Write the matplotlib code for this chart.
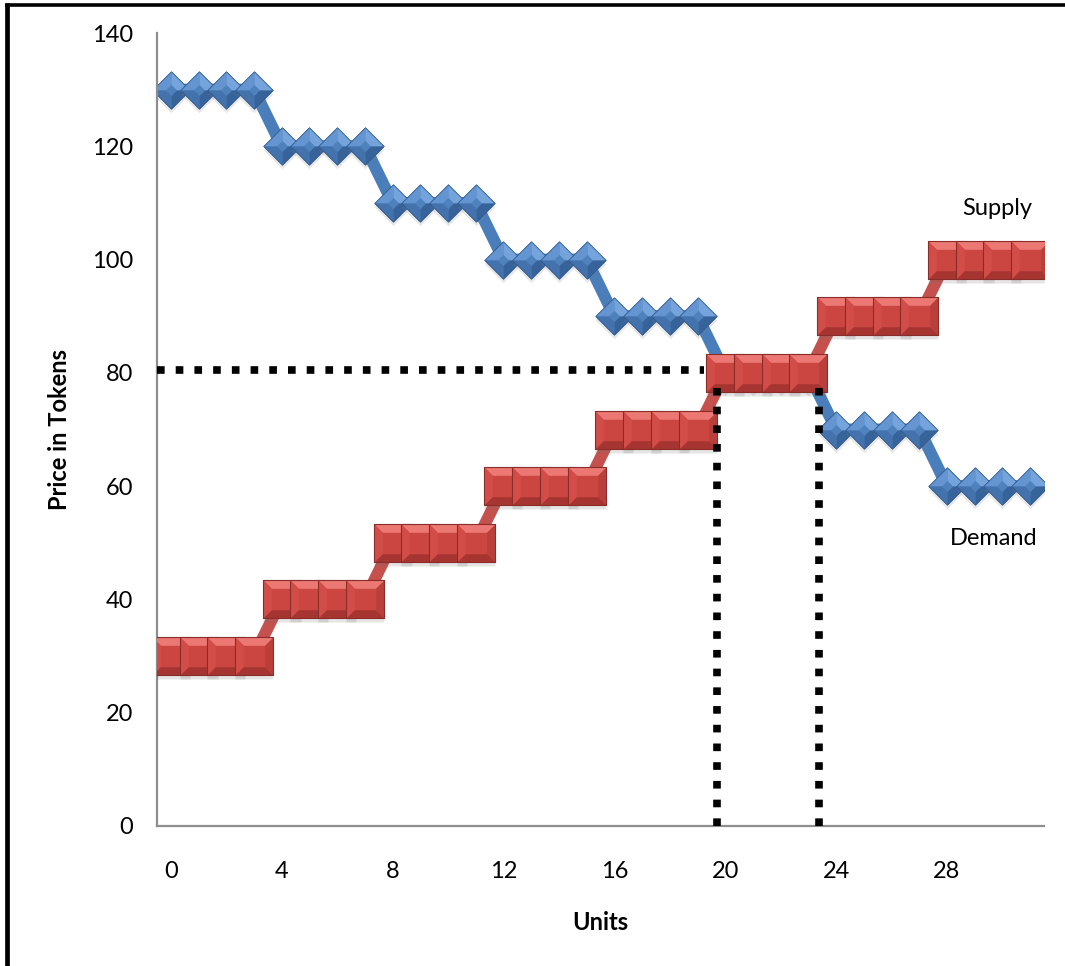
import matplotlib
matplotlib.use("Agg")
import matplotlib.pyplot as plt
from matplotlib.path import Path
from matplotlib.lines import Line2D
import matplotlib.transforms as mtransforms

# ---------------- data ----------------
units = list(range(32))
demand = [130, 130, 130, 130, 120, 120, 120, 120, 110, 110, 110, 110,
          100, 100, 100, 100, 90, 90, 90, 90, 80, 80, 80, 80,
          70, 70, 70, 70, 60, 60, 60, 60]
supply = [30, 30, 30, 30, 40, 40, 40, 40, 50, 50, 50, 50,
          60, 60, 60, 60, 70, 70, 70, 70, 80, 80, 80, 80,
          90, 90, 90, 90, 100, 100, 100, 100]
xtick_vals = [0, 4, 8, 12, 16, 20, 24, 28]
ytick_vals = [0, 20, 40, 60, 80, 100, 120, 140]

eq_price = 80.5          # horizontal dotted guide
eq_price_end = 19.25     # where horizontal guide stops
qty_low = 19.7           # left vertical dotted guide
qty_high = 23.4          # right vertical dotted guide
qty_top = 77.3           # top of vertical guides

supply_label_pos = (29.8, 107.9)
demand_label_pos = (29.7, 49.6)

plt.rcParams['font.family'] = ['Lato', 'DejaVu Sans']

fig = plt.figure(figsize=(10.65, 9.66), dpi=100)
ax = fig.add_axes([157/1065, 1 - 826/966, (1044-157)/1065, (826-33)/966])

ax.set_xlim(-0.5, 31.5)
ax.set_ylim(0, 140)

# ---------------- facet marker paths ----------------
def poly(pts):
    return Path(pts + [pts[0]], [Path.MOVETO] + [Path.LINETO]*(len(pts)-1) + [Path.CLOSEPOLY])

a = 0.55
sq_base = poly([(-1, -1), (1, -1), (1, 1), (-1, 1)])
sq_base_col = '#CB4541'
sq_facets = [
    (poly([(-1, 1), (1, 1), (a, a), (-a, a)]), '#EC7873'),      # top
    (poly([(-1, -1), (-1, 1), (-a, a), (-a, -a)]), '#D24D48'),  # left
    (poly([(1, -1), (1, 1), (a, a), (a, -a)]), '#BA3F3B'),      # right
    (poly([(-1, -1), (1, -1), (a, -a), (-a, -a)]), '#A63531'),  # bottom
]

b = 0.3
dm_base = poly([(-1, 0), (0, 1), (1, 0), (0, -1)])
dm_base_col = '#4F81BD'
dm_facets = [
    (poly([(-1, 0), (0, 1), (0, b), (-b, 0)]), '#6595D0'),      # top-left
    (poly([(0, 1), (1, 0), (b, 0), (0, b)]), '#75A4DC'),        # top-right
    (poly([(-1, 0), (0, -1), (0, -b), (-b, 0)]), '#4372AD'),    # bottom-left
    (poly([(1, 0), (0, -1), (0, -b), (b, 0)]), '#37639B'),      # bottom-right
]

shadow_tr = mtransforms.offset_copy(ax.transData, fig=fig, x=0, y=-4, units='dots')

# ---------------- demand ----------------
ax.plot(units, demand, color='#4A7EBB', lw=8.6, solid_capstyle='butt', zorder=2)
dm_size = 27
for x, y in zip(units, demand):
    ax.plot([x], [y], marker=dm_base, ms=dm_size, mfc='#7F7F7F', mec='none',
            alpha=0.18, ls='none', transform=shadow_tr, zorder=2)
    ax.plot([x], [y], marker=dm_base, ms=dm_size, mfc=dm_base_col, mec='none', ls='none', zorder=2)
    for path, col in dm_facets:
        ax.plot([x], [y], marker=path, ms=dm_size, mfc=col, mec='none', ls='none', zorder=2)
    ax.plot([x], [y], marker=dm_base, ms=dm_size, mfc='none', mec='#2F5A8E',
            mew=0.6, ls='none', zorder=2)

# ---------------- supply ----------------
ax.plot(units, supply, color='#C4514E', lw=8.6, solid_capstyle='butt', zorder=3)
sq_size = 28
for x, y in zip(units, supply):
    ax.plot([x], [y], marker=sq_base, ms=sq_size, mfc='#6F6F6F', mec='none',
            alpha=0.18, ls='none', transform=shadow_tr, zorder=3)
    ax.plot([x], [y], marker=sq_base, ms=sq_size, mfc=sq_base_col, mec='none', ls='none', zorder=3)
    for path, col in sq_facets:
        ax.plot([x], [y], marker=path, ms=sq_size, mfc=col, mec='none', ls='none', zorder=3)
    ax.plot([x], [y], marker=sq_base, ms=sq_size, mfc='none', mec='#8A2C29',
            mew=0.8, ls='none', zorder=3)

# ---------------- dotted guides ----------------
dot_kw = dict(color='black', lw=5.5, ls=(0, (1, 1.45)), dash_capstyle='butt', zorder=4)
ax.plot([-0.5, eq_price_end], [eq_price, eq_price], **dot_kw)
ax.plot([qty_low, qty_low], [0, qty_top], **dot_kw)
ax.plot([qty_high, qty_high], [0, qty_top], **dot_kw)

# ---------------- axes styling ----------------
for s in ['top', 'right']:
    ax.spines[s].set_visible(False)
for s in ['left', 'bottom']:
    ax.spines[s].set_color('#8E8E8E')
    ax.spines[s].set_linewidth(1.6)
ax.set_xticks(xtick_vals)
ax.set_xticklabels([str(v) for v in xtick_vals])
ax.set_yticks(ytick_vals)
ax.set_yticklabels([str(v) for v in ytick_vals])
ax.tick_params(axis='both', length=0, labelsize=17, colors='black')
ax.tick_params(axis='y', pad=17)
ax.tick_params(axis='x', pad=25)

ax.set_xlabel('Units', fontsize=17, fontweight='bold', labelpad=21)
ax.set_ylabel('Price in Tokens', fontsize=17, fontweight='bold', labelpad=15)

ax.text(*supply_label_pos, 'Supply', fontsize=17, ha='center', va='baseline')
ax.text(*demand_label_pos, 'Demand', fontsize=17, ha='center', va='baseline')

# ---------------- frame (left and top) ----------------
fig.add_artist(Line2D([7/1065, 7/1065], [0, 1 - 3/966], transform=fig.transFigure,
                      color='black', lw=3.4, solid_capstyle='butt'))
fig.add_artist(Line2D([5/1065, 1], [1 - 5/966, 1 - 5/966], transform=fig.transFigure,
                      color='black', lw=2.6, solid_capstyle='butt'))

fig.savefig('out.png', dpi=100)
